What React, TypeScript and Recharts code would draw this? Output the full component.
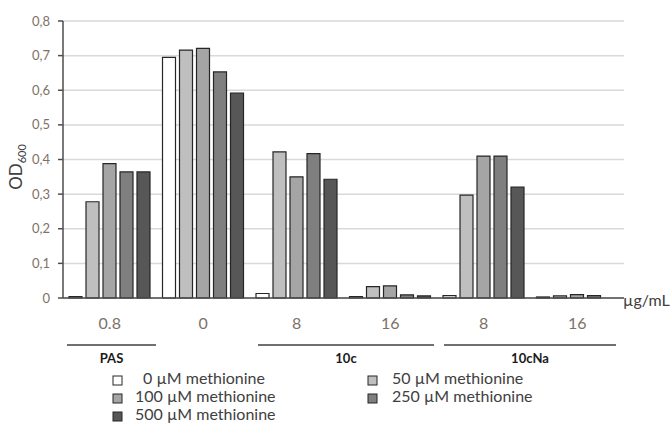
import React from 'react';
import { BarChart, Bar, XAxis, YAxis, CartesianGrid } from 'recharts';

const categories = ['0.8', '0', '8', '16', '8', '16'];
const met0 = [0.004, 0.695, 0.013, 0.004, 0.007, 0.003];
const met50 = [0.278, 0.716, 0.422, 0.033, 0.297, 0.006];
const met100 = [0.388, 0.721, 0.35, 0.035, 0.41, 0.01];
const met250 = [0.364, 0.653, 0.417, 0.009, 0.41, 0.007];
const met500 = [0.364, 0.592, 0.343, 0.006, 0.32, 0];
const yTicks = [0, 0.1, 0.2, 0.3, 0.4, 0.5, 0.6, 0.7, 0.8];

const seriesNames = ['0 µM methionine', '50 µM methionine', '100 µM methionine', '250 µM methionine', '500 µM methionine'];
const seriesKeys = ['m0', 'm50', 'm100', 'm250', 'm500'];
const seriesColors = ['#ffffff', '#bfbfbf', '#a5a5a5', '#7f7f7f', '#575757'];

const groups = [
  { name: 'PAS', x1: 67, x2: 156 },
  { name: '10c', x1: 258, x2: 434 },
  { name: '10cNa', x1: 444, x2: 616 },
];

const data = categories.map((c, i) => ({
  dose: c,
  m0: met0[i],
  m50: met50[i],
  m100: met100[i],
  m250: met250[i],
  m500: met500[i],
}));

const FONT = 'Lato, "Noto Sans", sans-serif';
const TICK_COLOR = '#7d7166';
const TEXT_COLOR = '#404040';

const legendLayout = [
  { idx: 0, x: 113, tx: 143, y: 380 },
  { idx: 2, x: 113, tx: 135, y: 398 },
  { idx: 4, x: 113, tx: 135, y: 416 },
  { idx: 1, x: 368, tx: 392, y: 380 },
  { idx: 3, x: 368, tx: 392, y: 398 },
];

export default function App() {
  return (
    <div style={{ position: 'absolute', left: 0, top: 0, width: 670, height: 425, background: '#fff', fontFamily: FONT }}>
      <BarChart
        width={670}
        height={425}
        data={data}
        margin={{ top: 21, right: 46, bottom: 97, left: 0 }}
        barSize={13}
        barGap={4}
      >
        <CartesianGrid vertical={false} stroke="#d9d9d9" strokeWidth={1.5} />
        <XAxis
          dataKey="dose"
          height={30}
          tickLine={false}
          axisLine={{ stroke: '#4d4d4d', strokeWidth: 1.5 }}
          tick={{ fill: TICK_COLOR, fontSize: 16, fontFamily: FONT }}
          tickMargin={14}
          interval={0}
        />
        <YAxis
          width={63}
          domain={[0, 0.8]}
          ticks={yTicks}
          tickSize={5}
          tickMargin={8}
          tickLine={{ stroke: '#4d4d4d', strokeWidth: 1.5 }}
          axisLine={{ stroke: '#4d4d4d', strokeWidth: 1.5 }}
          tick={{ fill: TICK_COLOR, fontSize: 13, fontFamily: FONT }}
          tickFormatter={(v: number) => (v === 0 ? '0' : v.toFixed(1).replace('.', ','))}
          interval={0}
        />
        {seriesKeys.map((k, i) => (
          <Bar
            key={k}
            dataKey={k}
            name={seriesNames[i]}
            fill={seriesColors[i]}
            stroke="#262626"
            strokeWidth={1.2}
            isAnimationActive={false}
          />
        ))}
      </BarChart>
      <svg width={670} height={425} style={{ position: 'absolute', left: 0, top: 0, pointerEvents: 'none' }}>
        <text
          transform="translate(22,167) rotate(-90)"
          textAnchor="middle"
          fontFamily={FONT}
          fontSize={17}
          fill={TEXT_COLOR}
        >
          OD<tspan fontSize={11} dy={4}>600</tspan>
        </text>
        <text x={623} y={302} dominantBaseline="middle" fontFamily={FONT} fontSize={16} fill={TEXT_COLOR}>
          µg/mL
        </text>
        {groups.map((g) => (
          <g key={g.name}>
            <line x1={g.x1} x2={g.x2} y1={345} y2={345} stroke="#404040" strokeWidth={1.5} />
            <text
              x={(g.x1 + g.x2) / 2}
              y={360}
              textAnchor="middle"
              dominantBaseline="middle"
              fontFamily={FONT}
              fontWeight={700}
              fontSize={13}
              fill="#1a1a1a"
            >
              {g.name}
            </text>
          </g>
        ))}
        {legendLayout.map((l) => (
          <g key={l.idx}>
            <rect x={l.x} y={l.y - 4} width={9} height={9} fill={seriesColors[l.idx]} stroke="#262626" strokeWidth={1} />
            <text x={l.tx} y={l.y} dominantBaseline="middle" fontFamily={FONT} fontSize={16} fill={TEXT_COLOR}>
              {seriesNames[l.idx]}
            </text>
          </g>
        ))}
      </svg>
    </div>
  );
}
